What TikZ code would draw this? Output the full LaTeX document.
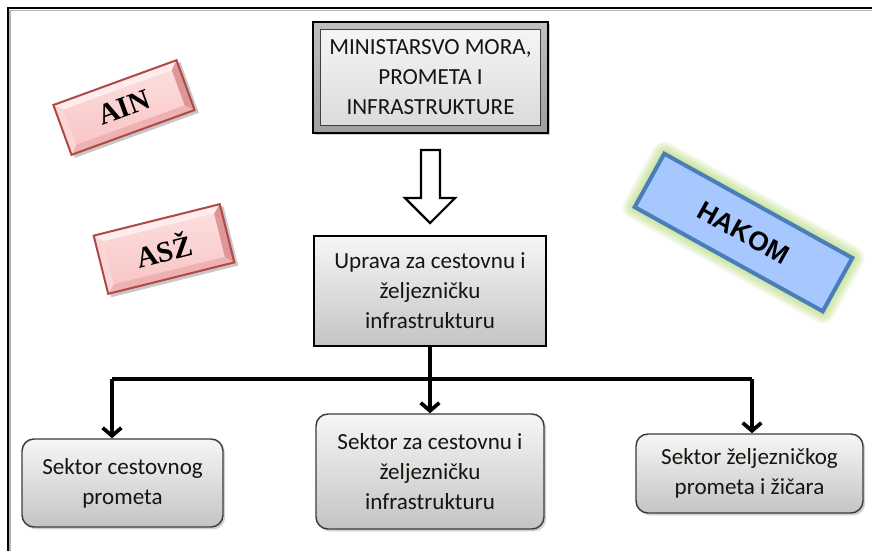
\documentclass[tikz,border=0pt]{standalone}
\usepackage{fontspec}
\setmainfont{Carlito}
\newfontfamily\serifbold{Liberation Serif}
\newfontfamily\sansbold{Liberation Sans}
\usetikzlibrary{shadows,arrows.meta,calc,backgrounds}
\definecolor{boxtop}{RGB}{246,246,246}
\definecolor{boxbot}{RGB}{196,196,196}
\definecolor{boxline}{RGB}{60,60,60}
\definecolor{txt}{RGB}{25,20,15}
\definecolor{pinkmid}{RGB}{249,198,198}
\definecolor{pinklight}{RGB}{255,236,236}
\definecolor{pinkleft}{RGB}{251,214,214}
\definecolor{pinkright}{RGB}{222,150,150}
\definecolor{pinkbottom}{RGB}{238,178,178}
\definecolor{pinkline}{RGB}{176,72,70}
\definecolor{hakfill}{RGB}{166,200,255}
\definecolor{hakline}{RGB}{74,126,187}
\definecolor{hakglow}{RGB}{165,210,90}
\definecolor{upglow}{RGB}{130,205,240}
\newcommand{\bevelbox}[7]{%
\begin{scope}[shift={(#2,#3)}, rotate=#4]
 \pgfmathsetmacro\bhw{#5/2}\pgfmathsetmacro\bhh{#6/2}
 \pgfmathsetmacro\biw{\bhw-8}\pgfmathsetmacro\bih{\bhh-8}
 \fill[black, opacity=0.22] (-\bhw+2,-\bhh+3) rectangle (\bhw+3,\bhh+4);
 \fill[pinkmid] (-\bhw,-\bhh) rectangle (\bhw,\bhh);
 \fill[pinklight] (-\bhw,-\bhh) -- (\bhw,-\bhh) -- (\biw,-\bih) -- (-\biw,-\bih) -- cycle;
 \fill[pinkbottom] (-\bhw,\bhh) -- (\bhw,\bhh) -- (\biw,\bih) -- (-\biw,\bih) -- cycle;
 \fill[pinkleft] (-\bhw,-\bhh) -- (-\biw,-\bih) -- (-\biw,\bih) -- (-\bhw,\bhh) -- cycle;
 \fill[pinkright] (\bhw,-\bhh) -- (\biw,-\bih) -- (\biw,\bih) -- (\bhw,\bhh) -- cycle;
 \shade[top color=pinklight!60!pinkmid, bottom color=pinkmid] (-\biw,-\bih) rectangle (\biw,\bih);
 \draw[pinkline, line width=1.5pt] (-\bhw,-\bhh) rectangle (\bhw,\bhh);
 \node[rotate=#4, font=\serifbold\bfseries\fontsize{22}{24}\selectfont, text=black] (#1) at (0,0) {#7};
\end{scope}}
\tikzset{
  boxtext/.style={align=center, text=txt, font=\fontsize{17.3}{22.5}\selectfont, inner sep=0pt},
  sector/.style={boxtext, rounded corners=9pt, draw=boxline, line width=1.1pt,
    top color=boxtop, bottom color=boxbot,
    drop shadow={shadow xshift=1.6pt, shadow yshift=-1.8pt, opacity=0.35}},
  conn/.style={line width=2.4pt, black},
  arr/.style={conn, -{Straight Barb[length=6pt,width=14pt,line width=2.8pt]}},
}
\begin{document}
\begin{tikzpicture}[x=0.75pt,y=-0.75pt]
\useasboundingbox (0,0) rectangle (872,551);
\fill[white] (0,0) rectangle (872,551);
% frame
\draw[gray!60, line width=1pt] (10,551) -- (10,10.5) -- (872,10.5);
\draw[black, line width=1.6pt] (8,551) -- (8,8) -- (872,8);

% ministry
\node[minimum width={235*0.75pt}, minimum height={111*0.75pt}, draw=black, line width=1.4pt,
  top color=gray!50, bottom color=gray!75,
  drop shadow={shadow xshift=1.6pt, shadow yshift=-1.8pt, opacity=0.4}] (minframe) at (430.5,77.5) {};
\node[boxtext, minimum width={220*0.75pt}, minimum height={96*0.75pt}, draw=black!75, line width=0.8pt,
  top color=gray!8, bottom color=gray!28] (min) at (430.5,77.5)
  {MINISTARSVO MORA,\\PROMETA I\\INFRASTRUKTURE};

% uprava
\node[boxtext, minimum width={232*0.75pt}, minimum height={110*0.75pt}, draw=black, line width=1.1pt,
  top color=boxtop, bottom color=boxbot] (upr) at (430,291)
  {Uprava za cestovnu i\\željezničku\\infrastrukturu};
\begin{pgfonlayer}{background}
\foreach \g in {1,2,3,4,5}
  \fill[upglow, opacity=0.18] ([shift={(-\g,-\g)}]upr.north west) rectangle ([shift={(\g,\g)}]upr.south east);
\end{pgfonlayer}

% hollow arrow ministry -> uprava
\draw[black, line width=1.6pt, fill=white]
  (421,150) -- (440,150) -- (440,198) -- (455,198) -- (430,223) -- (405,198) -- (421,198) -- cycle;

% sectors
\node[sector, minimum width={201*0.75pt}, minimum height={88*0.75pt}] (sec1) at (122.5,483)
  {Sektor cestovnog\\prometa};
\node[sector, minimum width={228*0.75pt}, minimum height={115*0.75pt}] (sec2) at (430,471.5)
  {Sektor za cestovnu i\\željezničku\\infrastrukturu};
\node[sector, minimum width={227*0.75pt}, minimum height={79*0.75pt}] (sec3) at (749.5,473.5)
  {Sektor željezničkog\\prometa i žičara};

% connectors
\coordinate (hl) at (112,379);
\coordinate (hr) at (752,379);
\draw[conn] (hl) -- (hr);
\draw[arr] (upr.south) -- (sec2.north);
\draw[arr] (hl) -- (hl |- sec1.north);
\draw[arr] (hr) -- (hr |- sec3.north);

% AIN, ASZ
\bevelbox{ain}{124}{107.5}{20}{131}{53}{AIN}
\bevelbox{asz}{164}{249}{14}{130}{60}{ASŽ}

% HAKOM
\begin{scope}[shift={(743.5,232.5)}, rotate=-29]
\foreach \g in {2,4,6,8,10,12}
  \fill[hakglow, opacity=0.13, rounded corners={\g*0.75pt}] ({-107.5-\g},{-30.5-\g}) rectangle ({107.5+\g},{30.5+\g});
\end{scope}
\node[rotate=-29, minimum width={215*0.75pt}, minimum height={61*0.75pt}, fill=hakfill, draw=hakline,
  line width=3pt, font=\sansbold\bfseries\fontsize{20}{24}\selectfont] (hak) at (743.5,232.5) {HAKOM};
\end{tikzpicture}
\end{document}
